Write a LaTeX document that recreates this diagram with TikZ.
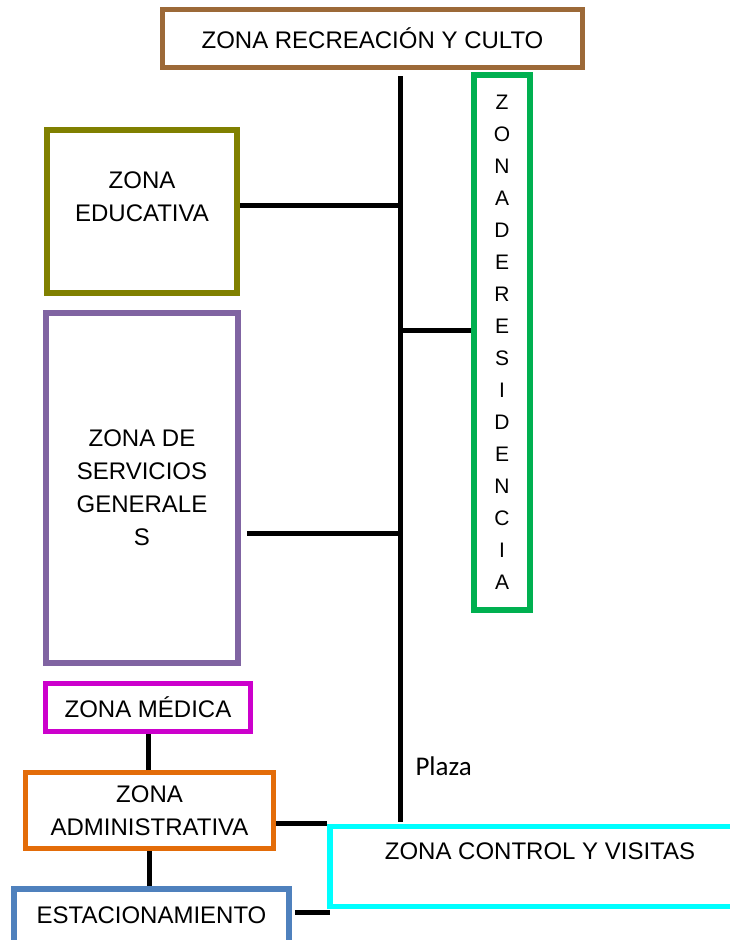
\documentclass[tikz,border=0pt]{standalone}
\usepackage{fontspec}
\setmainfont{Liberation Sans}
\newfontfamily\plazafont{Carlito}
\usetikzlibrary{positioning,backgrounds}

\definecolor{cafe}{RGB}{156,105,56}
\definecolor{oliva}{RGB}{128,128,0}
\definecolor{verde}{RGB}{0,176,80}
\definecolor{morado}{RGB}{128,100,162}
\definecolor{magenta2}{RGB}{204,0,204}
\definecolor{naranja}{RGB}{227,108,9}
\definecolor{azul}{RGB}{79,129,189}
\definecolor{celeste}{RGB}{0,255,255}

\begin{document}
\begin{tikzpicture}[x=1pt,y=-1pt,
  zona/.style={draw=#1,line width=5.5pt,fill=white,inner sep=0pt,align=center,
    font=\fontsize{24}{33}\selectfont},
  txt/.style={align=center,font=\fontsize{24}{33}\selectfont},
  conn/.style={line width=5pt}]
\useasboundingbox (0,0) rectangle (730,940);

\node[zona=cafe,minimum width=420,minimum height=58] (recre) at (372.5,38.5) {ZONA RECREACIÓN Y CULTO};
\node[zona=verde,minimum width=56,minimum height=535,font=\fontsize{21}{32}\selectfont] (resid) at (502,342.5)
  {Z\\O\\N\\A\\D\\E\\R\\E\\S\\I\\D\\E\\N\\C\\I\\A};
\node[zona=oliva,line width=6.5pt,minimum width=190,minimum height=163,
  label={[txt,yshift=15pt]center:ZONA\\EDUCATIVA}] (educ) at (142,211.5) {};
\node[zona=morado,minimum width=192,minimum height=350] (serv) at (142,488)
  {ZONA DE\\SERVICIOS\\GENERALE\\S};
\node[zona=magenta2,minimum width=205,minimum height=48] (med) at (148,707.5) {ZONA MÉDICA};
\node[zona=naranja,minimum width=248,minimum height=76] (adm) at (149.5,810.5) {ZONA\\ADMINISTRATIVA};
\node[zona=azul,minimum width=275,minimum height=60,
  label={[txt,yshift=4pt]center:ESTACIONAMIENTO}] (est) at (151.5,919) {};
\node[zona=celeste,minimum width=420,minimum height=80,
  label={[txt,yshift=15pt]center:ZONA CONTROL Y VISITAS}] (ctrl) at (540,866.5) {};
\node[anchor=base west,font=\plazafont\fontsize{27}{30}\selectfont] (plaza) at (412,775) {Plaza};

% eje central
\coordinate (top) at (400,76);
\coordinate (bot) at (400,822);
\coordinate (j1) at (400,205);
\coordinate (j2) at (400,330);
\coordinate (j3) at (400,533);
\coordinate (j4) at (330,912);

\begin{pgfonlayer}{background}
\draw[conn] (top) -- (bot);
\draw[conn] (j1 -| educ.east) -- (j1);
\draw[conn] (j2) -- (j2 -| resid.west);
\draw[conn,shorten <=6pt] (j3 -| serv.east) -- (j3);
\draw[conn] (med.south) -- (med.south |- adm.north);
\draw[conn] (adm.south) -- (adm.south |- est.north);
\draw[conn] (ctrl.north west) -- (ctrl.north west -| adm.east);
\draw[conn,shorten <=3pt] (j4 -| est.east) -- (j4);
\end{pgfonlayer}
\end{tikzpicture}
\end{document}
